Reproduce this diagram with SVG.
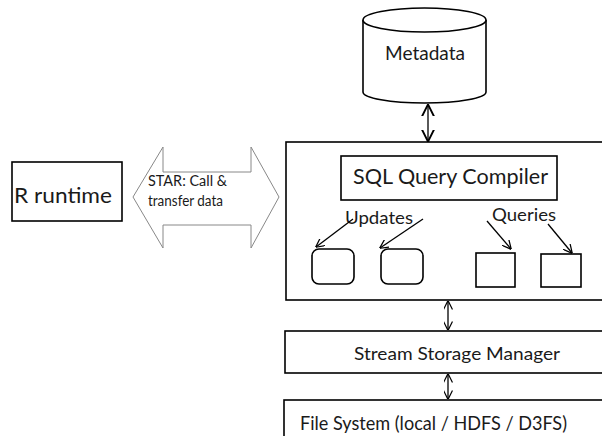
<svg xmlns="http://www.w3.org/2000/svg" width="602" height="436" viewBox="0 0 602 436">
<style>
.box{fill:#fff;stroke:#000;stroke-width:1.6}
.t{font-family:Lato,"Open Sans","Liberation Sans",sans-serif;fill:#1a1a1a}
.c{fill:none;stroke:#000;stroke-width:1.3}
</style>
<defs>
<marker id="ah" viewBox="0 0 10 10" refX="9.5" refY="5" markerWidth="9" markerHeight="9" markerUnits="userSpaceOnUse" orient="auto-start-reverse">
<path d="M0,0 L10,5 L0,10" fill="none" stroke="#000" stroke-width="1.4"/>
</marker>
<marker id="ahb" viewBox="0 0 10 10" refX="9.5" refY="5" markerWidth="12" markerHeight="14" markerUnits="userSpaceOnUse" orient="auto-start-reverse">
<path d="M0,0 L10,5 L0,10" fill="none" stroke="#000" stroke-width="1.6"/>
</marker>
</defs>
<rect width="602" height="436" fill="#fff"/>
<g id="metadata">
<path class="box" d="M363,20 L363,92 A61.5,11 0 0 0 486,92 L486,20"/>
<ellipse class="box" cx="424.5" cy="20" rx="61.5" ry="12"/>
<text class="t" x="425" y="60" font-size="19" text-anchor="middle" textLength="80" lengthAdjust="spacingAndGlyphs">Metadata</text>
</g>
<g id="r-runtime">
<rect class="box" x="12" y="162" width="110" height="59"/>
<text class="t" x="14" y="203" font-size="22" textLength="98" lengthAdjust="spacingAndGlyphs">R runtime</text>
</g>
<g id="star">
<path d="M133,197 L163,147 L163,172 L251,172 L251,147 L279,197 L251,248 L251,225 L163,225 L163,248 Z" fill="#fff" stroke="#888" stroke-width="1"/>
<text class="t" x="148" y="186" font-size="14.5" textLength="79" lengthAdjust="spacingAndGlyphs">STAR: Call &amp;</text>
<text class="t" x="148" y="206" font-size="14.5" textLength="75" lengthAdjust="spacingAndGlyphs">transfer data</text>
</g>
<g id="engine">
<rect class="box" x="286" y="142" width="330" height="158"/>
</g>
<g id="sql-compiler">
<rect class="box" x="341" y="156" width="216" height="44"/>
<text class="t" x="353" y="184" font-size="22" textLength="195" lengthAdjust="spacingAndGlyphs">SQL Query Compiler</text>
</g>
<g id="updates-label">
<text class="t" x="345" y="224" font-size="18" textLength="68" lengthAdjust="spacingAndGlyphs">Updates</text>
</g>
<g id="queries-label">
<text class="t" x="492" y="221" font-size="18" textLength="64" lengthAdjust="spacingAndGlyphs">Queries</text>
</g>
<g id="update-1"><rect class="box" x="312" y="249" width="42" height="35" rx="7"/></g>
<g id="update-2"><rect class="box" x="381" y="249" width="42" height="35" rx="7"/></g>
<g id="query-1"><rect class="box" x="476" y="253" width="39" height="34"/></g>
<g id="query-2"><rect class="box" x="541" y="254" width="40" height="33"/></g>
<g id="stream-storage">
<rect class="box" x="285" y="331" width="330" height="42"/>
<text class="t" x="354" y="360" font-size="18" textLength="206" lengthAdjust="spacingAndGlyphs">Stream Storage Manager</text>
</g>
<g id="file-system">
<rect class="box" x="284" y="400" width="330" height="50"/>
<text class="t" x="300" y="430" font-size="19" textLength="267" lengthAdjust="spacingAndGlyphs">File System (local / HDFS / D3FS)</text>
</g>
<g id="connectors">
<line class="c" x1="428" y1="105" x2="428" y2="141" stroke-width="2" marker-start="url(#ahb)" marker-end="url(#ahb)"/>
<line class="c" x1="448" y1="301" x2="448" y2="330" marker-start="url(#ah)" marker-end="url(#ah)"/>
<line class="c" x1="448" y1="374" x2="448" y2="399" marker-start="url(#ah)" marker-end="url(#ah)"/>
<line class="c" x1="353" y1="219" x2="316" y2="247" marker-end="url(#ah)"/>
<line class="c" x1="423" y1="219" x2="380" y2="248" marker-end="url(#ah)"/>
<line class="c" x1="487" y1="221" x2="511" y2="249" marker-end="url(#ah)"/>
<line class="c" x1="548" y1="224" x2="572" y2="253" marker-end="url(#ah)"/>
</g>
</svg>
